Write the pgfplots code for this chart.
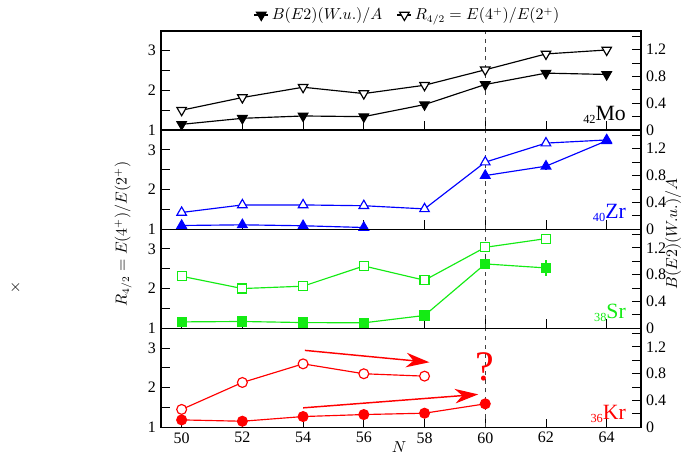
\documentclass[border=0pt]{standalone}
\usepackage{fontspec}
\setmainfont{Liberation Serif}
\usepackage{pgfplots}
\pgfplotsset{compat=1.18}
\usetikzlibrary{arrows.meta}
\definecolor{cgreen}{RGB}{20,235,20}
\pgfplotsset{
 panel/.style={
  scale only axis, width=330.74pt, height=68.27pt,
  xmin=49.32, xmax=65.13,
  xtick={50,52,...,64},
  tick align=inside,
  major tick length=6pt, minor tick length=6pt,
  tick style={line width=0.6pt, black},
  axis line style={line width=0.8pt},
  /pgf/number format/assume math mode=true,
  tick label style={font=\fontsize{11}{12}\selectfont},
  anchor=south west,
 },
 leftax/.style={panel, ymin=1, ymax=3.5, ytick={1,2,3}, minor ytick={1.5,2.5}, xtick pos=left, ytick pos=left},
 rightax/.style={panel, ymin=0, ymax=1.48, ytick={0,0.4,0.8,1.2}, minor ytick={0.2,0.6,1.0,1.4}, xtick=\empty, ytick pos=right, yticklabel pos=right},
 vline/.style={black!75, dashed, line width=0.7pt, forget plot},
 ser/.style={line width=0.8pt, forget plot},
 errb/.style={/pgfplots/error bars/y dir=both, /pgfplots/error bars/y explicit, /pgfplots/error bars/error mark=none, /pgfplots/error bars/error bar style={line width=0.8pt}},
}
\tikzset{el/.style={font=\fontsize{15}{18}\selectfont, anchor=base east, inner sep=0pt},
 lab/.style={font=\fontsize{10.6}{12}\selectfont}}
\newcommand{\iso}[2]{\raisebox{-2pt}{\fontsize{8.5}{9}\selectfont #1}#2}
\begin{document}
\begin{tikzpicture}
\path[use as bounding box] (0,0) rectangle (472pt,313.5pt);
% ---------- Mo ----------
\begin{axis}[leftax, at={(110.94pt,223.90pt)}, xticklabels={},
 legend style={at={(0.5,1)}, anchor=center, xshift=4.8pt, yshift=11pt, draw=none, fill=none, legend columns=2, font=\fontsize{10.6}{12}\selectfont, /tikz/every even column/.append style={column sep=8pt}},
 legend image code/.code={\draw[mark repeat=2,mark phase=2,#1] plot coordinates {(0cm,0cm) (0.17cm,0cm) (0.34cm,0cm)};}]
\addlegendimage{black, line width=0.8pt, mark=triangle*, mark size=3.8pt, mark options={rotate=180,solid,fill=black}}
\addlegendentry{$B(E2)(W.u.)/A$}
\addlegendimage{black, line width=0.8pt, mark=triangle*, mark size=3.8pt, mark options={rotate=180,solid,fill=white}}
\addlegendentry{$R_{4/2}=E(4^+)/E(2^+)$}
\addplot[vline] coordinates {(60,1) (60,3.5)};
\addplot[ser, black, mark=triangle*, mark size=3.8pt, mark options={rotate=180, fill=white}] coordinates {
(50,1.50) (52,1.82) (54,2.08) (56,1.92) (58,2.13) (60,2.52) (62,2.92) (64,3.02)};
\node[el, black] at (rel axis cs:0.969,0.10) {\iso{42}{Mo}};
\end{axis}
\begin{axis}[rightax, at={(110.94pt,223.90pt)}]
\addplot[ser, errb, black, mark=triangle*, mark size=3.8pt, mark options={rotate=180, fill=black}] coordinates {
(50,0.085) +- (0,0) (52,0.175) +- (0,0) (54,0.21) +- (0,0) (56,0.20) +- (0,0) (58,0.38) +- (0,0) (60,0.68) +- (0,0) (62,0.85) +- (0,0.05) (64,0.83) +- (0,0)};
\end{axis}
% ---------- Zr ----------
\begin{axis}[leftax, at={(110.94pt,155.63pt)}, xticklabels={}]
\addplot[vline] coordinates {(60,1) (60,3.5)};
\addplot[ser, blue, mark=triangle*, mark size=3.8pt, mark options={fill=white}] coordinates {
(50,1.42) (52,1.61) (54,1.61) (56,1.59) (58,1.51) (60,2.69) (62,3.17) (64,3.25)};
\node[el, blue] at (rel axis cs:0.969,0.11) {\iso{40}{Zr}};
\end{axis}
\begin{axis}[rightax, at={(110.94pt,155.63pt)}]
\addplot[ser, blue, mark=triangle*, mark size=3.8pt, mark options={fill=blue}] coordinates {
(50,0.054) (52,0.064) (54,0.05) (56,0.024)};
\addplot[ser, errb, blue, mark=triangle*, mark size=3.8pt, mark options={fill=blue}] coordinates {
(60,0.80) +- (0,0) (62,0.94) +- (0,0.06) (64,1.32) +- (0,0.04)};
\end{axis}
% ---------- Sr ----------
\begin{axis}[leftax, at={(110.94pt,87.36pt)}, xticklabels={}]
\addplot[vline] coordinates {(60,1) (60,3.5)};
\addplot[ser, cgreen, mark=square*, mark size=3.1pt, mark options={fill=white}] coordinates {
(50,2.31) (52,2.00) (54,2.06) (56,2.57) (58,2.21) (60,3.04) (62,3.26)};
\node[el, cgreen] at (rel axis cs:0.969,0.10) {\iso{38}{Sr}};
\end{axis}
\begin{axis}[rightax, at={(110.94pt,87.36pt)}]
\addplot[ser, errb, cgreen, mark=square*, mark size=3.1pt, mark options={fill=cgreen}] coordinates {
(50,0.094) +- (0,0) (52,0.10) +- (0,0) (54,0.084) +- (0,0) (56,0.08) +- (0,0) (58,0.19) +- (0,0) (60,0.96) +- (0,0.03) (62,0.90) +- (0,0.12)};
\end{axis}
% ---------- Kr ----------
\begin{axis}[leftax, at={(110.94pt,19.09pt)}]
\addplot[vline] coordinates {(60,1) (60,3.5)};
\addplot[ser, red, mark=*, mark size=3.4pt, mark options={fill=white}] coordinates {
(50,1.45) (52,2.13) (54,2.60) (56,2.35) (58,2.29)};
\draw[red, line width=1pt, -{Stealth[length=16pt, width=10pt, inset=5pt]}] (axis cs:54.06,2.94) -- (axis cs:58.16,2.64);
\draw[red, line width=1pt, -{Stealth[length=16pt, width=10pt, inset=5pt]}] (axis cs:54.0,1.49) -- (axis cs:59.77,1.83);
\node[red, font=\fontsize{29}{31}\selectfont, inner sep=0pt] at (axis cs:60,2.53) {?};
\node[el, red] at (rel axis cs:0.969,0.08) {\iso{36}{Kr}};
\end{axis}
\begin{axis}[rightax, at={(110.94pt,19.09pt)}]
\addplot[ser, red, mark=*, mark size=3.4pt, mark options={fill=red}] coordinates {
(50,0.11) (52,0.09) (54,0.16) (56,0.19) (58,0.21) (60,0.35)};
\end{axis}
% ---------- labels ----------
\node[lab, rotate=90] at (84.8pt,152.3pt) {$R_{4/2} = E(4^+)/E(2^+)$};
\node[lab, rotate=90] at (463.8pt,152.3pt) {$B(E2)(W.u.)/A$};
\node[lab] at (275pt,5.5pt) {$N$};
\node[lab] at (10.7pt,115.1pt) {$\times$};
\end{tikzpicture}
\end{document}
